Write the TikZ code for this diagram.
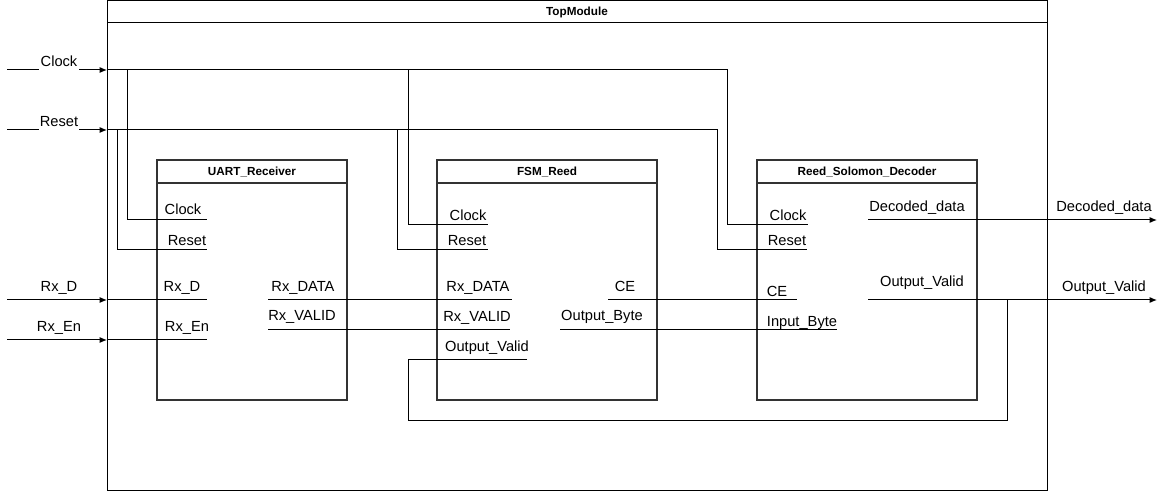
\documentclass[tikz,border=0pt]{standalone}
\usepackage{fontspec}
\setmainfont{Liberation Sans}
\usetikzlibrary{arrows.meta}

\begin{document}
\begin{tikzpicture}[x=0.75pt,y=-0.75pt,>={Latex[length=5.5pt,width=4.5pt]},
	wire/.style={line width=0.75pt},
	block/.style={draw=black!80,line width=1.5pt},
	port/.style={anchor=base,inner sep=0pt,font=\fontsize{11}{13}\selectfont},
	title/.style={anchor=base,inner sep=0pt,font=\fontsize{8.8}{10}\selectfont\bfseries},
	inlbl/.style={port,fill=white,inner xsep=1pt,text depth=5pt}]

\useasboundingbox (0,0) rectangle (1167,491);

% frames
\draw[line width=0.75pt] (107,1) rectangle (1047,490);
\draw[line width=0.75pt] (107,23)--(1047,23);
\node[title] (topT) at (577,16) {TopModule};

\foreach\xa/\xb/\nm/\txt in {157/347/uart/UART\_Receiver,437/657/fsm/FSM\_Reed,757/977/rs/Reed\_Solomon\_Decoder}{
	\draw[block] (\xa,160) rectangle (\xb,400);
	\draw[block] (\xa,183)--(\xb,183);
	\node[title] (\nm T) at ({(\xa+\xb)/2},176) {\txt};
}

% top level pins
\coordinate (clkIn) at (7,70);
\coordinate (clkTop) at (107,70);
\coordinate (rstIn) at (7,130);
\coordinate (rstTop) at (107,130);
\coordinate (rxdIn) at (7,300);
\coordinate (rxdTop) at (107,300);
\coordinate (rxeIn) at (7,340);
\coordinate (rxeTop) at (107,340);
\coordinate (decOut) at (1157,220);
\coordinate (validOut) at (1157,300);

% bus corners
\coordinate (clkA) at (127,70);
\coordinate (clkB) at (408,70);
\coordinate (clkR) at (727,70);
\coordinate (rstA) at (117,130);
\coordinate (rstB) at (397,130);
\coordinate (rstR) at (717,130);
\coordinate (fbL) at (408,420);
\coordinate (fbR) at (1007,300);

% port ends
\coordinate (uClk) at (207,220);
\coordinate (uRst) at (207,250);
\coordinate (uRxD) at (207,300);
\coordinate (uRxEn) at (207,340);
\coordinate (uData) at (268,300);
\coordinate (uValid) at (268,330);
\coordinate (fClk) at (488,225);
\coordinate (fRst) at (488,250);
\coordinate (fData) at (512,300);
\coordinate (fValid) at (510,330);
\coordinate (fOut) at (527,360);
\coordinate (fCE) at (608,300);
\coordinate (fByte) at (560,330);
\coordinate (rClk) at (808,225);
\coordinate (rRst) at (807,250);
\coordinate (rCE) at (797,300);
\coordinate (rByte) at (837,330);
\coordinate (rDec) at (868,220);
\coordinate (rOut) at (868,300);

% inputs
\draw[wire,->] (clkIn) -- node[inlbl,pos=0.52,yshift=2.25pt] (clkL) {Clock} (clkTop);
\draw[wire,->] (rstIn) -- node[inlbl,pos=0.52,yshift=2.25pt] (rstL) {Reset} (rstTop);
\draw[wire,->] (rxdIn) -- node[port,pos=0.52,yshift=6pt] (rxdL) {Rx\_D} (rxdTop);
\draw[wire,->] (rxeIn) -- node[port,pos=0.52,yshift=6pt] (rxeL) {Rx\_En} (rxeTop);

% clock and reset
\draw[wire] (clkTop) -- (clkR) |- (rClk);
\draw[wire] (clkA) |- (uClk);
\draw[wire] (clkB) |- (fClk);
\draw[wire] (rstTop) -- (rstR) |- (rRst);
\draw[wire] (rstA) |- (uRst);
\draw[wire] (rstB) |- (fRst);

% data path
\draw[wire] (rxdTop) -- (uRxD);
\draw[wire] (rxeTop) -- (uRxEn);
\draw[wire] (uData) -- (fData);
\draw[wire] (uValid) -- (fValid);
\draw[wire] (fCE) -- (rCE);
\draw[wire] (fByte) -- (rByte);
\draw[wire] (fOut) -| (fbL) -| (fbR);
\draw[wire,->] (rDec) -- (decOut);
\draw[wire,->] (rOut) -- (validOut);

% port names
\node[port] (uClkT) at (183,215) {Clock};
\node[port] (uRstT) at (187,246) {Reset};
\node[port] (uRxDT) at (182,292) {Rx\_D};
\node[port] (uRxEnT) at (187,332) {Rx\_En};
\node[port] (uDataT) at (303,292) {Rx\_DATA};
\node[port] (uValidT) at (302,321) {Rx\_VALID};

\node[port] (fClkT) at (468,221) {Clock};
\node[port] (fRstT) at (467,246) {Reset};
\node[port] (fDataT) at (478,292) {Rx\_DATA};
\node[port] (fValidT) at (477,322) {Rx\_VALID};
\node[port] (fOutT) at (487,352) {Output\_Valid};
\node[port] (fCET) at (625,292) {CE};
\node[port] (fByteT) at (602,321) {Output\_Byte};

\node[port] (rClkT) at (788,221) {Clock};
\node[port] (rRstT) at (787,246) {Reset};
\node[port] (rCET) at (777,297) {CE};
\node[port] (rByteT) at (802,327) {Input\_Byte};
\node[port] (rDecT) at (917,212) {Decoded\_data};
\node[port] (rOutT) at (922,287) {Output\_Valid};

\node[port] (decT) at (1104,212) {Decoded\_data};
\node[port] (validT) at (1104,292) {Output\_Valid};

\end{tikzpicture}
\end{document}
